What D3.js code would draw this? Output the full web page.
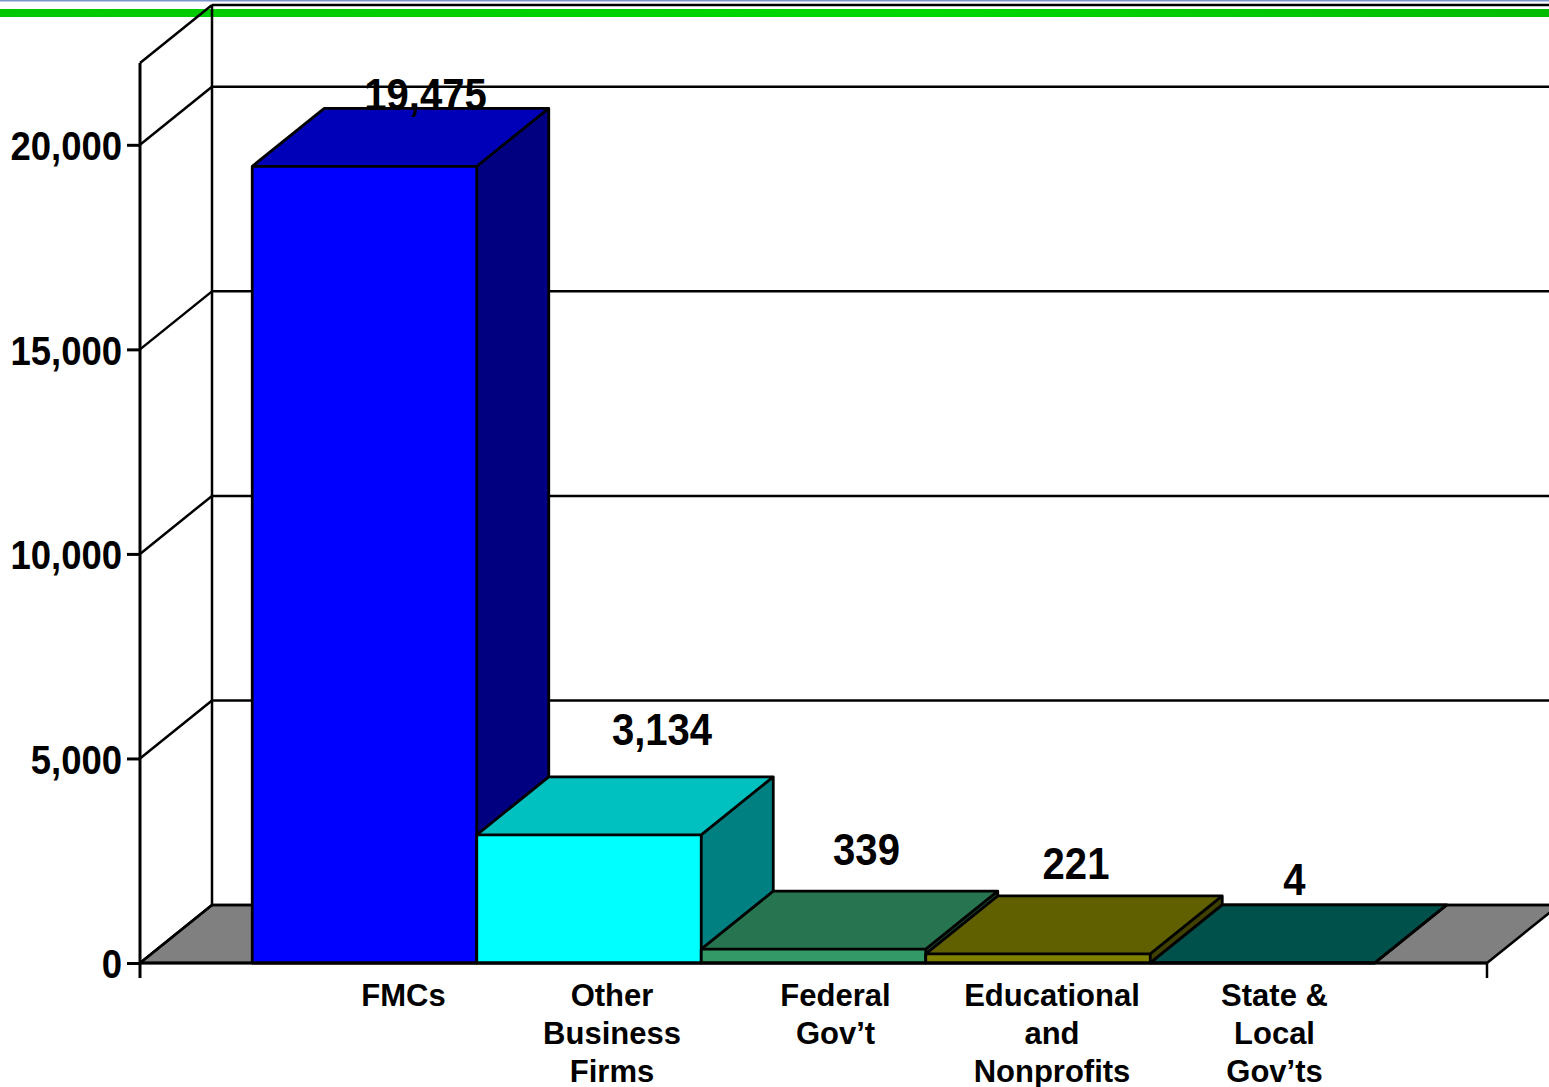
<!DOCTYPE html>
<html>
<head>
<meta charset="utf-8">
<script src="https://cdn.jsdelivr.net/npm/d3@7"></script>
<style>
  html, body { margin: 0; padding: 0; background: #fff; }
  svg { display: block; }
</style>
</head>
<body>
<svg id="chart" width="1549" height="1087"></svg>
<script>
// Employment by sector of performer (values as labelled)
const categories = ["FMCs", "Other Business Firms", "Federal Gov’t", "Educational and Nonprofits", "State & Local Gov’ts"];
const categoryLines = [["FMCs"], ["Other", "Business", "Firms"], ["Federal", "Gov’t"], ["Educational", "and", "Nonprofits"], ["State &", "Local", "Gov’ts"]];
const values = [19475, 3134, 339, 221, 4];
const valueLabels = ["19,475", "3,134", "339", "221", "4"];
const tickValues = [0, 5000, 10000, 15000, 20000];
const tickLabels = ["0", "5,000", "10,000", "15,000", "20,000"];

// Per-bar face colours: front, top, side
const frontColors = ["#0000ff", "#00ffff", "#339966", "#808000", "#006a64"];
const topColors   = ["#0000b8", "#00c0c0", "#277550", "#606000", "#00504b"];
const sideColors  = ["#000080", "#008080", "#1a4d33", "#404000", "#003532"];

// Hand-placed label nudges (x offset from top-face centre, baseline offset from back top edge)
const valueLabelDx = [25, 37, 17, 2, -4];
const valueLabelDy = [2, -32, -26, -17, -10];
const catLabelDx = [39, 23, 22, 14, 12];

const svg = d3.select("#chart");
const DX = 72, DY = -58;           // depth offset of the 3D box
const x0 = 140, x1 = 1487;          // front floor edge
const W = 1549;
const NARROW = 0.89;                // horizontal squeeze for the condensed numerals
const numFont = "'Liberation Sans', Arial, Helvetica, sans-serif";

const y = d3.scaleLinear().domain([0, 22000]).range([963, 63]);
const x = d3.scaleBand().domain(categories).range([x0, x1]).paddingInner(0).paddingOuter(0.5);

const line = (pts) => "M" + pts.map(p => p.join(",")).join("L") + "Z";
const path = (pts) => "M" + pts.map(p => p.join(",")).join("L");

// Header rules
svg.append("rect").attr("x", 0).attr("y", 0).attr("width", W).attr("height", 1.5).attr("fill", "#7d95cf");
const grad = svg.append("defs").append("linearGradient").attr("id", "gband");
grad.append("stop").attr("offset", "0%").attr("stop-color", "#00c800");
grad.append("stop").attr("offset", "60%").attr("stop-color", "#00d800");
grad.append("stop").attr("offset", "100%").attr("stop-color", "#00bb00");
svg.append("rect").attr("x", 0).attr("y", 9).attr("width", W).attr("height", 8).attr("fill", "url(#gband)");

const g = svg.append("g");
const y0 = y(0), yTop = y(22000);

// Floor
g.append("path")
  .attr("d", line([[x0, y0], [x1, y0], [x1 + DX, y0 + DY], [x0 + DX, y0 + DY]]))
  .attr("fill", "#808080").attr("stroke", "#000").attr("stroke-width", 2.5).attr("stroke-linejoin", "round");

// Back wall grid
const gridVals = tickValues.concat([22000]);
g.selectAll(".grid").data(gridVals).join("line")
  .attr("x1", x0 + DX).attr("x2", W + 5)
  .attr("y1", d => y(d) + DY).attr("y2", d => y(d) + DY)
  .attr("stroke", "#000").attr("stroke-width", 2.5);
g.append("line").attr("x1", x0 + DX).attr("x2", x0 + DX).attr("y1", yTop + DY).attr("y2", y0 + DY)
  .attr("stroke", "#000").attr("stroke-width", 2.5);

// Side wall diagonals
g.selectAll(".diag").data(gridVals).join("line")
  .attr("x1", x0).attr("x2", x0 + DX)
  .attr("y1", d => y(d)).attr("y2", d => y(d) + DY)
  .attr("stroke", "#000").attr("stroke-width", 2.5);

// Bars
const bw = x.bandwidth();
categories.forEach((c, i) => {
  const bx = x(c), ty = y(values[i]);
  const bar = g.append("g");
  bar.append("path").attr("d", line([[bx + bw, ty], [bx + bw + DX, ty + DY], [bx + bw + DX, y0 + DY], [bx + bw, y0]]))
    .attr("fill", sideColors[i]);
  bar.append("path").attr("d", line([[bx, ty], [bx + bw, ty], [bx + bw + DX, ty + DY], [bx + DX, ty + DY]]))
    .attr("fill", topColors[i]);
  bar.append("rect").attr("x", bx).attr("y", ty).attr("width", bw).attr("height", y0 - ty)
    .attr("fill", frontColors[i]);
  // outlines
  bar.append("path").attr("d", line([[bx, y0], [bx, ty], [bx + DX, ty + DY], [bx + bw + DX, ty + DY], [bx + bw + DX, y0 + DY], [bx + bw, y0]]))
    .attr("fill", "none").attr("stroke", "#000").attr("stroke-width", 2.8).attr("stroke-linejoin", "round");
  bar.append("path").attr("d", path([[bx, ty], [bx + bw, ty], [bx + bw + DX, ty + DY]]))
    .attr("fill", "none").attr("stroke", "#000").attr("stroke-width", 2.8).attr("stroke-linejoin", "round");
  bar.append("path").attr("d", path([[bx + bw, ty], [bx + bw, y0]]))
    .attr("fill", "none").attr("stroke", "#000").attr("stroke-width", 2.8);
});

// Front floor edge and front axis
g.append("line").attr("x1", x0).attr("x2", x1).attr("y1", y0).attr("y2", y0).attr("stroke", "#000").attr("stroke-width", 3);
g.append("line").attr("x1", x1).attr("x2", x1).attr("y1", y0).attr("y2", y0 + 15).attr("stroke", "#000").attr("stroke-width", 2.5);
g.append("line").attr("x1", x0).attr("x2", x0).attr("y1", yTop).attr("y2", y0 + 15).attr("stroke", "#000").attr("stroke-width", 3);

// Y axis ticks and labels
const axis = d3.axisLeft(y).tickValues(tickValues).tickSize(13).tickPadding(5)
  .tickFormat((d, i) => tickLabels[i]);
const ax = g.append("g").attr("transform", `translate(${x0},0)`).call(axis);
ax.select(".domain").remove();
ax.selectAll(".tick line").attr("stroke", "#000").attr("stroke-width", 3);
ax.selectAll(".tick text")
  .attr("fill", "#000")
  .attr("x", 0)
  .attr("dy", "0.36em")
  .attr("transform", `translate(-18,0) scale(${NARROW},1)`)
  .style("font-family", numFont)
  .style("font-weight", "bold")
  .style("font-size", "41px");

// Value labels above bars
g.selectAll(".vlabel").data(values).join("text")
  .attr("transform", (d, i) => {
    const lx = x(categories[i]) + bw / 2 + DX / 2 + valueLabelDx[i];
    const ly = y(d) + DY + valueLabelDy[i];
    return `translate(${lx},${ly}) scale(${NARROW},1)`;
  })
  .attr("text-anchor", "middle")
  .style("font-family", numFont)
  .style("font-weight", "bold")
  .style("font-size", "45px")
  .text((d, i) => valueLabels[i]);

// Category labels
categories.forEach((c, i) => {
  const cx = x(c) + bw / 2 + catLabelDx[i];
  const t = g.append("text")
    .attr("x", cx)
    .attr("y", 1006)
    .attr("text-anchor", "middle")
    .style("font-family", "'Liberation Sans', Arial, sans-serif")
    .style("font-weight", "bold")
    .style("font-size", "31px");
  categoryLines[i].forEach((ln, k) => {
    t.append("tspan").attr("x", cx).attr("dy", k === 0 ? 0 : 38).text(ln);
  });
});
</script>
</body>
</html>
